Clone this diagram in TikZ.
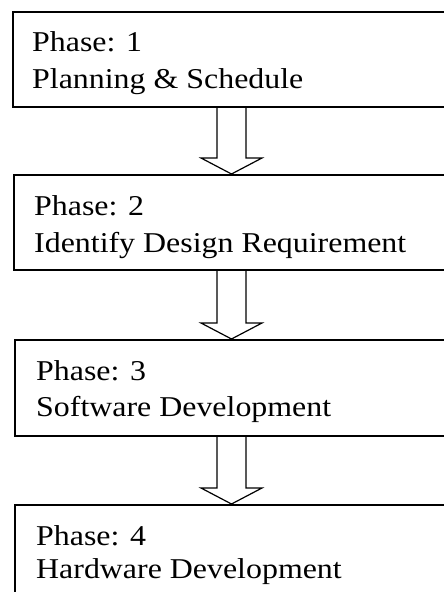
\documentclass[tikz,border=0pt]{standalone}
\usepackage{fontspec}
\usepackage{graphicx}
\setmainfont{Liberation Serif}
\usetikzlibrary{calc}
\tikzset{
  box/.style={draw, line width=1.5pt, anchor=north west, minimum width=480pt, inner sep=0pt},
  lab/.style={anchor=base west, inner sep=0pt, font=\fontsize{31.9}{37}\selectfont},
  flow/.style={draw, line width=1.2pt, line join=miter}
}
\newcommand\hollowarrow[2]{\draw[flow] let \p1=(#1.south), \p2=(#2.north) in
  (217pt,\y1) -- (217pt,\y2+16pt) -- (201pt,\y2+16pt) -- (231.5pt,\y2) -- (262pt,\y2+16pt) -- (246pt,\y2+16pt) -- (246pt,\y1);}
\newcommand\sq[1]{\scalebox{1}[0.9]{#1}}
\begin{document}
\begin{tikzpicture}[x=1pt,y=1pt]
\useasboundingbox (0,0) rectangle (444,-592);
\clip (0,0) rectangle (444,-592);
\fill[white] (0,0) rectangle (444,-592);
\node[box, minimum height=95pt] (p1) at (12,-11) {};
\node[box, minimum height=95pt] (p2) at (13,-174) {};
\node[box, minimum height=96pt] (p3) at (14,-339) {};
\node[box, minimum height=120pt] (p4) at (14,-504) {};
\node[lab] (h1) at (32,-51) {\sq{Phase: 1}};
\node[lab] (n1) at (32,-88) {\sq{Planning \& Schedule}};
\node[lab] (h2) at (34,-215) {\sq{Phase: 2}};
\node[lab] (n2) at (34,-252) {\sq{Identify Design Requirement}};
\node[lab] (h3) at (36,-380) {\sq{Phase: 3}};
\node[lab] (n3) at (36,-416) {\sq{Software Development}};
\node[lab] (h4) at (36,-545) {\sq{Phase: 4}};
\node[lab] (n4) at (36,-578) {\sq{Hardware Development}};
\hollowarrow{p1}{p2}
\hollowarrow{p2}{p3}
\hollowarrow{p3}{p4}
\end{tikzpicture}
\end{document}
